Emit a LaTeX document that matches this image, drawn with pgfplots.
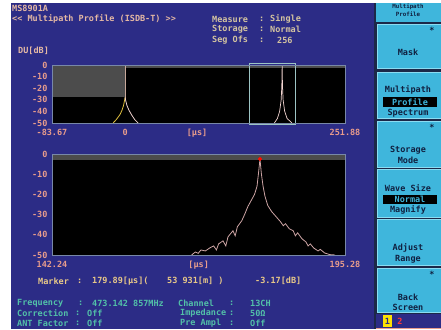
\documentclass[border=0pt]{standalone}
\usepackage{fontspec}
\setmainfont{DejaVu Sans Mono}[Ligatures=NoCommon]
\usepackage{pgfplots}
\pgfplotsset{compat=1.18}
\definecolor{scr}{HTML}{2C2C86}
\definecolor{pdark}{HTML}{1C2848}
\definecolor{btn}{HTML}{3FB6DC}
\definecolor{btnedge}{HTML}{8ADCF2}
\definecolor{btntxt}{HTML}{102040}
\definecolor{hdr}{HTML}{E4B8A4}
\definecolor{meas}{HTML}{D4C4A0}
\definecolor{tick}{HTML}{E89C8C}
\definecolor{mark}{HTML}{E8C888}
\definecolor{info}{HTML}{52C0A8}
\definecolor{axc}{HTML}{7888A8}
\definecolor{band}{HTML}{4C4C4C}
\definecolor{boxc}{HTML}{9CC4C4}
\definecolor{trace}{HTML}{CCA4A4}
\definecolor{ytrace}{HTML}{E0C040}
\definecolor{wtrace}{HTML}{F2D4D0}
\tikzset{txt/.style={anchor=west,inner sep=0pt,font=\fontsize{8.5}{9}\selectfont\bfseries},
  btxt/.style={anchor=center,inner sep=0pt,text=btntxt,font=\fontsize{8.5}{9}\selectfont\bfseries}}
\begin{document}
\begin{tikzpicture}
\useasboundingbox (0,0) rectangle (441pt,-329pt);
\fill[white] (0,0) rectangle (441pt,-329pt);
\fill[scr] (11pt,-3pt) rectangle (441pt,-329pt);
% side panel
\fill[pdark] (374pt,-3pt) rectangle (441pt,-329pt);
\fill[btn] (376pt,-3pt) rectangle (441pt,-22pt);
\foreach \a/\b in {24/68,72/118,121/167,169/217,219/265,268/312}{
  \fill[btn,draw=btnedge,line width=0.6pt] (377pt,-\a pt) rectangle (441pt,-\b pt);
}
\fill[scr] (376pt,-314pt) rectangle (441pt,-329pt);
\draw[tick,line width=0.8pt] (376pt,-328pt) -- (441pt,-328pt);
\fill[yellow!85!orange] (383pt,-315pt) rectangle (392pt,-327pt);
\node[btxt,text=scr] at (387.5pt,-321pt) {1};
\node[btxt,text=red!70!pink] at (400pt,-321pt) {2};
\node[btxt,font=\fontsize{5.8}{6}\selectfont\bfseries] at (408pt,-7pt) {Multipath};
\node[btxt,font=\fontsize{5.8}{6}\selectfont\bfseries] at (408pt,-14pt) {Profile};
\node[btxt] at (408pt,-52pt) {Mask};
\node[btxt] at (432pt,-30pt) {*};
\node[btxt] at (408pt,-90pt) {Multipath};
\fill[black] (383pt,-97pt) rectangle (437pt,-107pt);
\node[btxt,text=btn] at (410pt,-102pt) {Profile};
\node[btxt] at (408pt,-113pt) {Spectrum};
\node[btxt] at (432pt,-127pt) {*};
\node[btxt] at (408pt,-150pt) {Storage};
\node[btxt] at (408pt,-160pt) {Mode};
\node[btxt] at (408pt,-188pt) {Wave Size};
\fill[black] (383pt,-195pt) rectangle (437pt,-204pt);
\node[btxt,text=btn] at (410pt,-199.5pt) {Normal};
\node[btxt] at (408pt,-210pt) {Magnify};
\node[btxt] at (408pt,-248pt) {Adjust};
\node[btxt] at (408pt,-259pt) {Range};
\node[btxt] at (432pt,-274pt) {*};
\node[btxt] at (408pt,-297pt) {Back};
\node[btxt] at (408pt,-307pt) {Screen};
% header texts
\node[txt,text=hdr] at (12pt,-8pt) {MS8901A};
\node[txt,text=hdr] at (12pt,-19pt) {\textless\kern0pt\textless{} Multipath Profile (ISDB-T) \textgreater\kern0pt\textgreater};
\node[txt,text=meas] at (212pt,-19pt) {Measure};
\node[txt,text=meas] at (259pt,-19pt) {:};
\node[txt,text=meas] at (270pt,-19pt) {Single};
\node[txt,text=meas] at (212pt,-29.5pt) {Storage};
\node[txt,text=meas] at (259pt,-29.5pt) {:};
\node[txt,text=meas] at (270pt,-29.5pt) {Normal};
\node[txt,text=meas] at (212pt,-40pt) {Seg Ofs};
\node[txt,text=meas] at (259pt,-40pt) {:};
\node[txt,text=meas] at (277pt,-40pt) {256};
\node[txt,text=hdr] at (18pt,-51pt) {DU[dB]};
% marker / info lines
\node[txt,text=mark] at (38pt,-281pt) {Marker};
\node[txt,text=mark] at (77pt,-281pt) {:};
\node[txt,text=mark] at (92pt,-281pt) {179.89[μs](};
\node[txt,text=mark] at (167pt,-281pt) {53 931[m] )};
\node[txt,text=mark] at (255pt,-281pt) {-3.17[dB]};
\node[txt,text=info] at (17pt,-303pt) {Frequency};
\node[txt,text=info] at (78pt,-303pt) {:};
\node[txt,text=info] at (92pt,-303pt) {473.142 857MHz};
\node[txt,text=info] at (178pt,-303pt) {Channel};
\node[txt,text=info] at (229pt,-303pt) {:};
\node[txt,text=info] at (250pt,-303pt) {13CH};
\node[txt,text=info] at (17pt,-313pt) {Correction};
\node[txt,text=info] at (75pt,-313pt) {:};
\node[txt,text=info] at (87pt,-313pt) {Off};
\node[txt,text=info] at (180pt,-313pt) {Impedance};
\node[txt,text=info] at (229pt,-313pt) {:};
\node[txt,text=info] at (250pt,-313pt) {50Ω};
\node[txt,text=info] at (17pt,-323pt) {ANT Factor};
\node[txt,text=info] at (75pt,-323pt) {:};
\node[txt,text=info] at (87pt,-323pt) {Off};
\node[txt,text=info] at (180pt,-323pt) {Pre Ampl};
\node[txt,text=info] at (229pt,-323pt) {:};
\node[txt,text=info] at (250pt,-323pt) {Off};
% ---------- top axis ----------
\begin{axis}[at={(52pt,-123pt)}, anchor=south west, scale only axis,
  width=293pt, height=58pt, xmin=-83.67, xmax=251.88, ymin=-50, ymax=0,
  axis background/.style={fill=black},
  axis line style={draw=axc, line width=0.9pt},
  ytick={0,-10,-20,-30,-40,-50}, yticklabels={0,-10,-20,-30,-40,-50},
  xtick={-83.67,0,82.4,251.88}, xticklabels={-83.67,0,{[μs]},251.88},
  major tick length=0pt,
  tick label style={font=\fontsize{8.5}{9}\selectfont\bfseries, text=tick},
  xticklabel style={yshift=-3pt}, yticklabel style={xshift=-1pt},
  clip=false, axis on top]
\addplot[draw=none, fill=band] coordinates {(-83.67,0) (251.88,0) (251.88,-2.2) (-83.67,-2.2)} -- cycle;
\addplot[draw=none, fill=band] coordinates {(-83.67,0) (0,0) (0,-28) (-83.67,-28)} -- cycle;
\addplot[draw=boxc, line width=0.8pt] coordinates {(142.24,1.5) (195.28,1.5) (195.28,-51.5) (142.24,-51.5) (142.24,1.5)};
\addplot[draw=hdr!70!gray, line width=0.5pt] coordinates {(0,-1) (0,-30)};
\addplot[draw=ytrace, line width=0.8pt] coordinates {(-13.7,-50) (-10,-47) (-6,-43) (-3.5,-39) (-1.8,-35) (-0.7,-31) (0,-28)};
\addplot[draw=wtrace, line width=0.8pt] coordinates {(0,-28) (0.8,-31) (2.2,-35) (4.5,-39) (7.5,-43) (11,-47) (15,-50)};
\addplot[draw=wtrace, line width=0.7pt] coordinates {(171,-50) (174.5,-46) (177,-40) (178.8,-30) (179.5,-18) (179.89,-1) (180.3,-18) (181,-30) (182.8,-40) (185.5,-46) (191,-50)};
\end{axis}
% ---------- bottom axis ----------
\begin{axis}[at={(52pt,-255pt)}, anchor=south west, scale only axis,
  width=293pt, height=101pt, xmin=142.24, xmax=195.28, ymin=-50, ymax=0,
  axis background/.style={fill=black},
  axis line style={draw=axc, line width=0.9pt},
  ytick={0,-10,-20,-30,-40,-50}, yticklabels={0,-10,-20,-30,-40,-50},
  xtick={142.24,168.8,195.28}, xticklabels={142.24,{[μs]},195.28},
  major tick length=0pt,
  tick label style={font=\fontsize{8.5}{9}\selectfont\bfseries, text=tick},
  xticklabel style={yshift=-3pt}, yticklabel style={xshift=-1pt},
  clip=false, axis on top]
\addplot[draw=none, fill=band] coordinates {(142.24,0) (195.28,0) (195.28,-3) (142.24,-3)} -- cycle;
\addplot[draw=trace, line width=0.8pt] coordinates {
(167.5,-50) (168.2,-48.5) (168.7,-49.2) (169.2,-47.5) (170,-48) (170.8,-46.5) (171.5,-45.5) (172,-47.5)
(172.4,-44.5) (173.2,-43) (173.7,-45.5) (174.1,-41) (175,-38) (175.4,-40.5) (175.8,-36) (176.6,-33)
(177.1,-30) (177.7,-26) (178.3,-23) (178.9,-20) (179.35,-16) (179.6,-10) (179.89,-2.5)
(180.15,-10) (180.45,-16) (180.8,-21) (181.3,-25.5) (182,-28.5) (182.8,-31) (183.6,-33.5) (184.1,-35.5)
(184.5,-34.5) (185.2,-37) (185.9,-38) (186.3,-40.5) (186.7,-39) (187.5,-42) (188.2,-43.5) (188.6,-45.5)
(189,-44.5) (189.6,-46.5) (190.4,-48) (190.8,-47.2) (191.6,-49) (192.5,-49.8) (193.5,-50)};
\addplot[only marks, mark=*, mark size=1.8pt, color=red!90!orange] coordinates {(179.89,-2.5)};
\end{axis}
\end{tikzpicture}
\end{document}
